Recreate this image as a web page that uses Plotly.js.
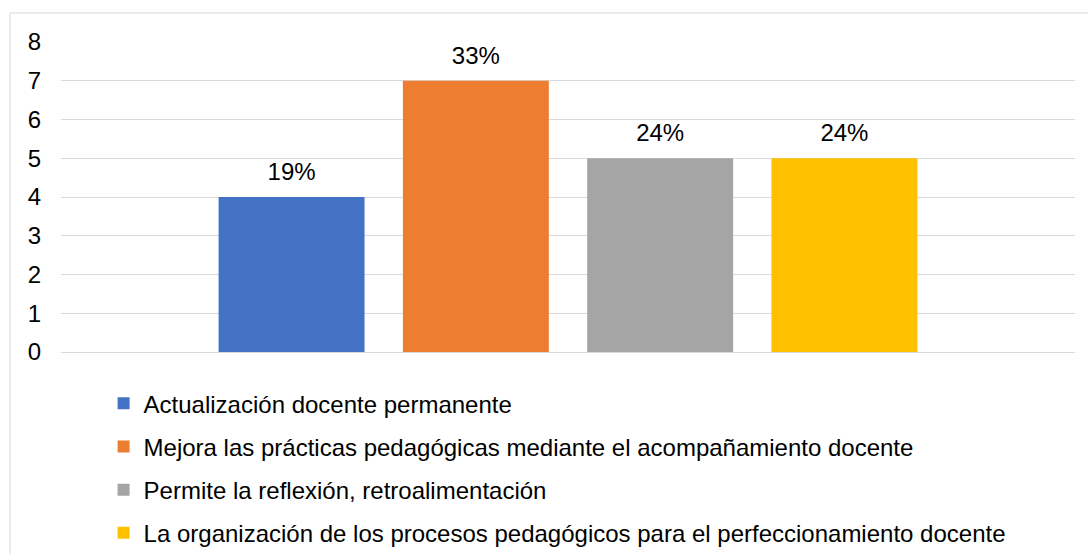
<!DOCTYPE html>
<html>
<head>
<meta charset="utf-8">
<script src="https://cdn.plot.ly/plotly-3.0.1.min.js"></script>
<style>html,body{margin:0;padding:0;background:#fff;}#chart{width:1088px;height:554px;}</style>
</head>
<body>
<div id="chart"></div>
<script>
const category = ['Respuestas'];
const seriesNames = [
  'Actualización docente permanente',
  'Mejora las prácticas pedagógicas mediante el acompañamiento docente',
  'Permite la reflexión, retroalimentación',
  'La organización de los procesos pedagógicos para el perfeccionamiento docente'
];
const seriesValues = [4, 7, 5, 5];
const percentLabels = ['19%', '33%', '24%', '24%'];
const yTicks = [0, 1, 2, 3, 4, 5, 6, 7, 8];
const seriesColors = ['#4472C4', '#ED7D31', '#A5A5A5', '#FFC000'];

const FONT = 'Liberation Sans, Arial, sans-serif';
const FS = 24;
const traces = [];
seriesNames.forEach((name, i) => {
  traces.push({
    type: 'bar',
    name: name,
    x: category,
    y: [seriesValues[i]],
    marker: {color: seriesColors[i]},
    legendgroup: 'g' + i,
    hoverinfo: 'skip'
  });
});
seriesNames.forEach((name, i) => {
  traces.push({
    type: 'scatter',
    mode: 'markers+text',
    x: category,
    y: [seriesValues[i]],
    text: [percentLabels[i]],
    textposition: 'top center',
    textfont: {family: FONT, size: FS, color: '#000'},
    marker: {size: 16, opacity: 0},
    showlegend: false,
    hoverinfo: 'skip',
    cliponaxis: false
  });
});

const layout = {
  width: 1088,
  height: 554,
  margin: {l: 61, r: 13, t: 42, b: 202, autoexpand: false},
  paper_bgcolor: '#fff',
  plot_bgcolor: '#fff',
  font: {family: FONT, size: FS, color: '#000'},
  barmode: 'group',
  scattermode: 'group',
  bargap: 0.273,
  scattergap: 0.273,
  bargroupgap: 0.208,
  xaxis: {showticklabels: false, showgrid: false, zeroline: false, showline: false, ticks: ''},
  yaxis: {
    range: [0, 8], tickvals: yTicks, ticktext: yTicks.map(String),
    showgrid: true, gridcolor: '#d9d9d9', gridwidth: 1,
    zeroline: true, zerolinecolor: '#d9d9d9', zerolinewidth: 1,
    showline: false, ticks: '', ticklabelstandoff: 19,
    tickfont: {family: FONT, size: FS, color: '#000'}, fixedrange: true
  },
  showlegend: true,
  legend: {
    orientation: 'v', x: 0.042, xanchor: 'left', y: -0.094, yanchor: 'top',
    font: {family: FONT, size: FS, color: '#000'},
    traceorder: 'grouped', tracegroupgap: 9, bgcolor: 'rgba(0,0,0,0)'
  },
  shapes: [{
    type: 'rect', xref: 'paper', yref: 'paper',
    x0: (10 - 61) / 1014, x1: 1.1, y0: -0.8, y1: (352 - 13) / 310,
    line: {color: '#d9d9d9', width: 1}, fillcolor: 'rgba(0,0,0,0)', layer: 'below'
  }]
};

Plotly.newPlot('chart', traces, layout, {displayModeBar: false, staticPlot: true});
</script>
</body>
</html>
